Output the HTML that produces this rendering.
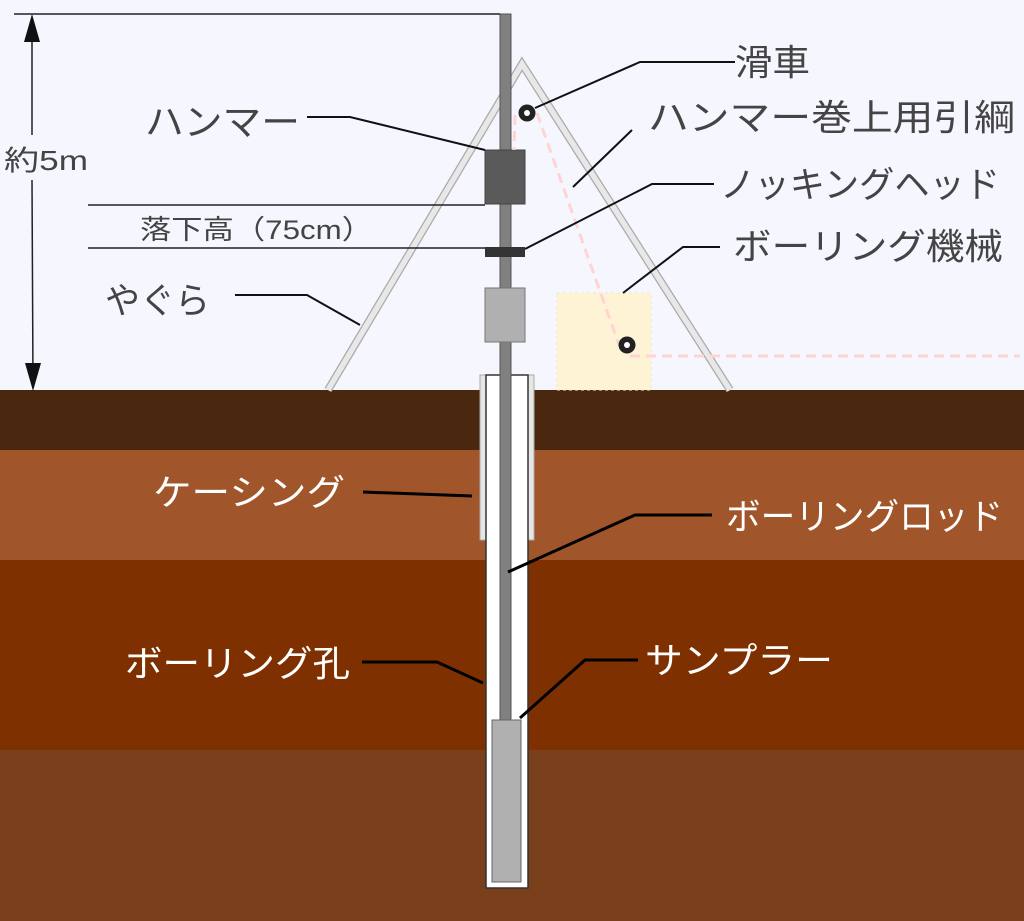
<!DOCTYPE html>
<html><head><meta charset="utf-8"><style>
html,body{margin:0;padding:0;background:#f5f6fe;}
svg{display:block}
text{font-family:"Liberation Sans","Noto Sans CJK JP",sans-serif;}
</style></head><body>
<svg width="1024" height="921" viewBox="0 0 1024 921" xmlns="http://www.w3.org/2000/svg">
<rect width="1024" height="921" fill="#f5f6fe"/>
<rect x="0" y="390" width="1024" height="60" fill="#4a2810"/>
<rect x="0" y="450" width="1024" height="110" fill="#a0562a"/>
<rect x="0" y="560" width="1024" height="190" fill="#7f3000"/>
<rect x="0" y="750" width="1024" height="171" fill="#7a401c"/>
<rect x="557" y="293" width="94" height="97" fill="#fff3d6" stroke="#f5e8c8" stroke-dasharray="3 3"/>
<polyline points="328,390 522,64 730,390" fill="none" stroke="#aaa" stroke-width="8"/>
<polyline points="328,390 522,64 730,390" fill="none" stroke="#e8e8e8" stroke-width="5.5"/>
<rect x="480" y="375" width="54" height="165" fill="#e6e6e6" stroke="#aaa"/>
<rect x="486" y="375" width="42" height="513" fill="#fff" stroke="#333" stroke-width="1.5"/>
<rect x="500" y="14" width="11" height="706" fill="#808080" stroke="#555" stroke-width="1"/>
<rect x="492" y="720" width="29" height="162" fill="#b0b0b0" stroke="#666"/>
<rect x="485" y="150" width="40" height="54" fill="#5a5a5a" stroke="#444"/>
<rect x="485" y="247" width="40" height="10" fill="#333"/>
<rect x="485" y="288" width="40" height="54" fill="#b0b0b0" stroke="#777"/>
<g stroke="#ffd4d4" stroke-width="3" stroke-dasharray="10 6" fill="none">
<line x1="515" y1="115" x2="514" y2="150"/>
<line x1="537" y1="113" x2="619" y2="345"/>
<line x1="630" y1="356" x2="1020" y2="356"/>
</g>
<circle cx="527" cy="113" r="8.5" fill="#222"/><circle cx="527" cy="113" r="3" fill="#fff"/>
<circle cx="627" cy="345" r="8.5" fill="#222"/><circle cx="627" cy="345" r="3" fill="#fff"/>
<g stroke="#222" stroke-width="1.5" fill="none">
<line x1="14" y1="14" x2="500" y2="14"/>
<line x1="32" y1="20" x2="32" y2="135"/>
<line x1="32" y1="180" x2="33" y2="385"/>
<line x1="88" y1="205" x2="485" y2="205"/>
<line x1="88" y1="248" x2="485" y2="248"/>
</g>
<polygon points="32,14 24,42 40,42" fill="#111"/>
<polygon points="33,391 25,363 41,363" fill="#111"/>
<g stroke="#111" stroke-width="2" fill="none">
<polyline points="735,62 640,62 535,108"/>
<polyline points="632,130 573,187"/>
<polyline points="714,184 652,184 525,249"/>
<polyline points="720,247 683,247 623,293"/>
<polyline points="307,117 350,117 485,150"/>
<polyline points="235,295 307,295 360,325"/>
</g>
<g stroke="#000" stroke-width="3" fill="none">
<polyline points="363,492 472,496"/>
<polyline points="712,515 635,515 508,572"/>
<polyline points="362,662 437,662 483,683"/>
<polyline points="638,660 585,660 520,718"/>
</g>
<g fill="#444" lengthAdjust="spacingAndGlyphs">
<text x="735" y="75" font-size="36" textLength="75" lengthAdjust="spacingAndGlyphs">滑車</text>
<text x="648" y="130" font-size="36" textLength="367" lengthAdjust="spacingAndGlyphs">ハンマー巻上用引綱</text>
<text x="720" y="197" font-size="36" textLength="280" lengthAdjust="spacingAndGlyphs">ノッキングヘッド</text>
<text x="733" y="259" font-size="36" textLength="270" lengthAdjust="spacingAndGlyphs">ボーリング機械</text>
<text x="145" y="135" font-size="37" textLength="155" lengthAdjust="spacingAndGlyphs">ハンマー</text>
<text x="4" y="170" font-size="28" textLength="84" lengthAdjust="spacingAndGlyphs">約5m</text>
<text x="140" y="239" font-size="27" textLength="233" lengthAdjust="spacingAndGlyphs">落下高（75cm）</text>
<text x="105" y="313" font-size="36" textLength="105" lengthAdjust="spacingAndGlyphs">やぐら</text>
</g>
<g fill="#fff">
<text x="153" y="505" font-size="36" textLength="192" lengthAdjust="spacingAndGlyphs">ケーシング</text>
<text x="726" y="529" font-size="36" textLength="277" lengthAdjust="spacingAndGlyphs">ボーリングロッド</text>
<text x="125" y="676" font-size="36" textLength="225" lengthAdjust="spacingAndGlyphs">ボーリング孔</text>
<text x="645" y="673" font-size="36" textLength="188" lengthAdjust="spacingAndGlyphs">サンプラー</text>
</g>
</svg>
</body></html>
